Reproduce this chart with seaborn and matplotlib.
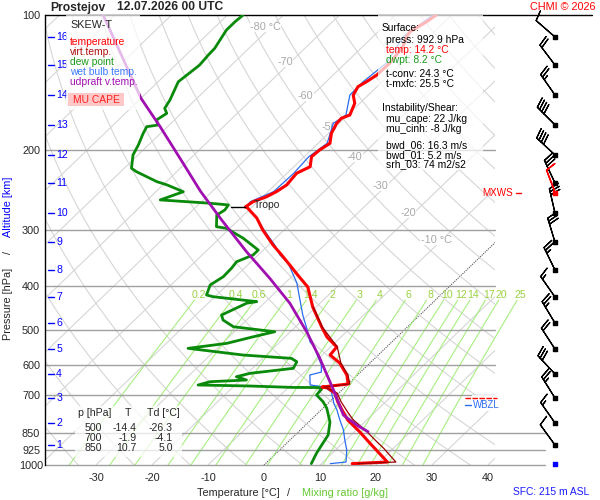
import numpy as np
import matplotlib
matplotlib.use("Agg")
import matplotlib.pyplot as plt
import matplotlib.transforms as mtransforms
from matplotlib.patches import Rectangle
import seaborn as sns

# sounding, p in hPa, temperatures in deg C
p_temp = [993, 985, 893.5, 844.6, 794.3, 762.4, 724.4, 691.8, 674.4, 671, 660.7, 631,
          593.4, 569.6, 546.7, 519.5, 493.5, 445.6, 402.2, 378.4, 359.4, 341.5, 324.4,
          300.5, 282.6, 268.5, 267.1, 260, 253.4, 247, 238.7, 224.8, 217.3, 206.5, 199.5,
          192.8, 183.2, 174.1, 169.7, 166.8, 157.1, 150.6, 144.3, 140.7, 135.9, 127.8,
          117.6, 111.7, 108.9, 103.5, 100]
temp = [15.5, 21.5, 14.8, 11.0, 6.6, 4.3, 1.5, -0.7, -2.9, -4.1, 0.0, -1.9,
        -5.4, -8.6, -8.9, -12.5, -15.3, -20.6, -25.2, -29.2, -32.5, -35.8, -39.2,
        -43.8, -47.1, -50.6, -51.2, -50.8, -49.3, -48.5, -47.9, -48.3, -47.1, -48.7, -48.5,
        -47.9, -49.5, -50.4, -50.5, -49.6, -50.9, -52.7, -53.4, -52.8, -52.2, -52.1,
        -52.8, -54.0, -54.3, -53.2, -52.7]

p_virt = [993, 985, 917, 893.5, 844.6, 794.3, 762.4, 724.4, 691.8, 671, 660.7, 631,
          593.4, 546.7, 493.5, 445.6]
virt = [16.5, 23.0, 18.2, 16.3, 12.3, 7.6, 5.1, 2.1, -0.3, -3.7, 0.3, -1.7,
        -5.2, -8.8, -15.2, -20.5]

p_dewp = [993, 941.9, 902.7, 857.7, 802.5, 748.2, 723.3, 699, 677.9, 672.7, 672.4, 667.5,
          664.1, 653, 647.4, 636.6, 625.6, 609.8, 589.5, 579.4, 569.7, 550.5, 536.6, 518.8,
          505.7, 492.9, 476.3, 464.2, 437, 433.5, 422.7, 419, 398.1, 381.5, 365.5, 353.4,
          341.5, 332.9, 313.3, 297.9, 295.4, 278.3, 271.2, 264.3, 262, 257.6, 247, 238.5,
          234.6, 222.9, 219.1, 204.7, 194.5, 183.2, 177.1, 175.6, 171.1, 165.4, 161.2,
          154.5, 140.7, 132.5, 129.2, 122.7, 118.6, 113.6, 108, 103.5, 100]
dewp = [8.2, 7.2, 6.6, 5.9, 3.8, 0.7, -1.2, -3.6, -3.8, -4.7, -9.2, -17.2,
        -26.6, -25.1, -18.9, -21.3, -19.5, -12.7, -13.3, -14.9, -24.1, -35.2, -29.2, -25.7,
        -22.8, -31.1, -34.2, -35.4, -33.1, -31.6, -40.3, -41.8, -43.0, -42.2, -42.3, -42.6,
        -40.9, -40.9, -45.8, -50.6, -52.7, -54.8, -54.3, -54.6, -58.2, -67.7, -65.1, -69.3,
        -71.7, -77.2, -78.7, -80.9, -81.8, -83.1, -83.7, -82.0, -83.2, -82.6, -83.9,
        -84.5, -86.4, -85.9, -85.7, -86.0, -86.1, -86.7, -87.4, -87.4, -87.2]

p_wetb = [993, 985, 926.1, 880.1, 836, 794.3, 754.3, 732, 688.3, 670.9, 664.1, 631, 621.5,
          599.5, 563.9, 546.8, 532.9, 509, 464.2, 429.7, 394, 356.2, 341.5, 324.4, 302.9,
          283, 267, 260, 247, 224.8, 206.5, 192.8, 174.1, 166.8, 150.6, 140.7, 127.8,
          111.7, 100]
wetb = [11.6, 14.1, 12.0, 9.8, 7.7, 5.2, 2.8, 1.2, -1.5, -3.6, -6.6, -8.5, -7.0,
        -8.3, -11.4, -12.8, -14.6, -16.6, -20.9, -24.2, -27.9, -33.1, -36.1, -38.9, -43.1,
        -47.1, -51.0, -51.3, -49.0, -48.8, -49.2, -48.4, -51.0, -50.3, -53.3, -53.4, -52.7,
        -54.6, -53.3]

p_updr = [843.4, 814.9, 774.3, 681.3, 578.5, 505.7, 437, 384.7, 335.7, 285.5, 246.1,
          213.6, 177.1, 153.1, 100]
updr = [12.4, 9.1, 4.9, -1.5, -9.9, -17.1, -25.4, -33.6, -42.7, -53.0, -62.2,
        -70.4, -81.3, -90.0, -112.2]

# altitude axis and winds (direction deg, speed kt) at each km
alt_km = [1, 2, 3, 4, 5, 6, 7, 8, 9, 10, 11, 12, 13, 14, 15, 16]
p_alt = [902.7, 806.5, 709.9, 627.8, 552.5, 483.7, 423.3, 368.8, 319.6, 275.4, 236.3,
         204.7, 175.5, 150.6, 129.2, 111.9]
wind_dir = [324, 325, 328, 317, 327, 329, 325, 334, 343, 347, 335, 313, 315, 325, 323, 311]
wind_spd = [10, 15, 25, 30, 20, 25, 15, 25, 30, 30, 30, 40, 40, 25, 20, 10]
p_mxws, dir_mxws, spd_mxws = 248.7, 339, 10
p_sfc = 993
p_tropo = 267

p_levels = [100, 200, 300, 400, 500, 600, 700, 850, 925, 1000]
t_ticks = [-30, -20, -10, 0, 10, 20, 30, 40]
mix_ratios = [0.2, 0.4, 0.6, 1, 1.4, 2, 3, 4, 6, 8, 10, 12, 14, 17, 20, 25]
iso_labels = [(-80, 106.3, "-80 °C"), (-70, 127.2, "-70"), (-60, 151.4, "-60"),
              (-50, 177.4, "-50"), (-40, 206.8, "-40"), (-30, 239.9, "-30"),
              (-20, 275.4, "-20"), (-10, 316.2, "-10 °C")]
table_rows = [("500", "-14.4", "-26.3"), ("700", "-1.9", "-4.1"), ("850", "10.7", "5.0")]

sns.set_style("white")
plt.rcParams['font.family'] = ['Liberation Sans', 'DejaVu Sans']
plt.rcParams['axes.unicode_minus'] = False

W, H = 600, 500
fig = plt.figure(figsize=(6, 5), dpi=100)
ax = fig.add_axes([45 / W, 35 / H, 450 / W, 450 / H])
ax.set_yscale('log')
ax.set_xlim(-39.1, 41.25)
ax.set_ylim(1000, 100)
ax.set_autoscale_on(False)

# skew-T: shift right by ~1.04 px per px of height, measured from the 1000 hPa line
skew = ax.transData + mtransforms.Affine2D().translate(0, -35).skew(np.arctan(1.039), 0).translate(0, 35)

# background: isotherms, dry adiabats, mixing ratio lines
pg = np.logspace(3, 2, 80)
for t in range(-140, 50, 10):
    if t == 0:
        ax.plot([t, t], [1000, 100], color='#555555', lw=0.8, ls=(0, (1, 1)), transform=skew, zorder=1)
    else:
        ax.plot([t, t], [1000, 100], color='#d6d6d6', lw=0.8, transform=skew, zorder=1)
for th in range(230, 470, 10):
    ax.plot(th * (pg / 1000) ** 0.2857 - 273.15, pg, color='#d6d6d6', lw=0.8, transform=skew, zorder=1)

pm = np.linspace(1000, 430, 30)
for w in mix_ratios:
    lne = np.log(w * pm / (622 + w) / 6.112)
    ax.plot(243.5 * lne / (17.67 - lne), pm, color='#a8ee80', lw=0.8, transform=skew,
            clip_on=False, zorder=1)
    lt = np.log(w * 419 / (622 + w) / 6.112)
    ax.text(243.5 * lt / (17.67 - lt), 419, f"{w:g}", transform=skew, color='#9ad142',
            fontsize=7.6, ha='center', va='center', clip_on=False)

for t, p, s in iso_labels:
    ax.text(t - 1, p, s, transform=skew, color='#a8a8a8', fontsize=7.8, ha='center', va='center',
            bbox=dict(fc='white', ec='none', pad=0.3), zorder=2)

for p in p_levels[1:]:
    ext = 500 / 450 if p >= 850 else 1.0
    ax.axhline(p, xmax=ext, color='#a0a0a0', lw=1, clip_on=False, zorder=2)
ax.axhline(100, xmax=547 / 450, color='black', lw=1, clip_on=False, zorder=3)

# MU CAPE shading between parcel and environment
pp = np.linspace(664, 692, 30)
up_i = np.interp(pp, p_updr[::-1], updr[::-1])
tv_i = np.interp(pp, p_virt[::-1], virt[::-1])
ax.fill_betweenx(pp, tv_i, up_i, where=up_i > tv_i, color='#ffc0c0', lw=0, transform=skew, zorder=3)

# profiles
sns.lineplot(x=wetb, y=p_wetb, sort=False, estimator=None, color='#2a6cf0', lw=0.9,
             transform=skew, ax=ax, zorder=4)
sns.lineplot(x=dewp, y=p_dewp, sort=False, estimator=None, color='#0a8a0a', lw=2,
             transform=skew, ax=ax, zorder=5)
sns.lineplot(x=temp, y=p_temp, sort=False, estimator=None, color='#ff0000', lw=2.2,
             transform=skew, ax=ax, zorder=5)
sns.lineplot(x=virt, y=p_virt, sort=False, estimator=None, color='#9a0000', lw=0.9,
             transform=skew, ax=ax, zorder=6)
sns.lineplot(x=updr, y=p_updr, sort=False, estimator=None, color='#a010b0', lw=2,
             transform=skew, ax=ax, zorder=6)

ax.plot([-53.8, -51.2], [p_tropo, p_tropo], color='black', lw=1, transform=skew, zorder=6)
ax.text(-50.0, p_tropo - 2, "Tropo", transform=skew, fontsize=7.4, va='center', zorder=6)

# axes cosmetics
ax.set_yticks(p_levels)
ax.set_yticklabels([str(p) for p in p_levels])
ax.yaxis.set_minor_locator(matplotlib.ticker.NullLocator())
ax.set_xticks(t_ticks)
ax.set_xticklabels([str(t) for t in t_ticks])
ax.tick_params(axis='y', length=0, pad=10, labelsize=7.8)
ax.tick_params(axis='x', length=0, pad=6, labelsize=7.8)
for lab in ax.get_yticklabels():
    lab.set_horizontalalignment('center')
ax.set_xlabel('')
ax.set_ylabel('')
for side in ['top', 'right', 'bottom']:
    ax.spines[side].set_visible(False)
ax.spines['left'].set_color('black')
ax.spines['left'].set_linewidth(1)
ax.grid(False)

# altitude ticks on the left
blend = mtransforms.blended_transform_factory(ax.transAxes, ax.transData)
for km, p in zip(alt_km, p_alt):
    ax.plot([0.007, 0.019], [p, p], color='#0000ff', lw=1, transform=blend, clip_on=False, zorder=6)
    ax.text(0.025, p, str(km), transform=blend, color='#0000ff', fontsize=7.6, va='center')

# wind barbs in the right column
bl = mtransforms.blended_transform_factory(fig.transFigure, ax.transData)
wd = np.deg2rad(wind_dir)
u = -np.array(wind_spd) * np.sin(wd)
v = -np.array(wind_spd) * np.cos(wd)
xb = np.full(len(p_alt), 555 / W)
ax.barbs(xb, p_alt, u, v, transform=bl, length=6, lw=0.9, color='black', clip_on=False, zorder=6)
ax.scatter(xb, p_alt, marker='s', s=8, color='black', transform=bl, clip_on=False, zorder=7)
wm = np.deg2rad(dir_mxws)
ax.barbs([555 / W], [p_mxws], [-spd_mxws * np.sin(wm)], [-spd_mxws * np.cos(wm)], transform=bl,
         length=6, lw=1, color='red', clip_on=False, zorder=7)
ax.scatter([555 / W], [p_mxws], marker='s', s=8, color='red', transform=bl, clip_on=False, zorder=7)
ax.scatter([555 / W], [p_sfc], marker='s', s=8, color='#0000ff', transform=bl, clip_on=False, zorder=7)
ax.text(482 / W, p_mxws, "MXWS", transform=bl, color='red', fontsize=7.1, va='center', clip_on=False)
ax.plot([516 / W, 521 / W], [p_mxws, p_mxws], color='red', lw=1, transform=bl, clip_on=False)


def fx(x):
    return x / W


def fy(y):
    return 1 - y / H


# semi transparent boxes
for (x0, y0, x1, y1, fc, a) in [(66, 15, 140, 110, 'white', 0.72), (378, 15, 483, 170, 'white', 0.72),
                                 (75, 406, 182, 457, 'white', 0.75), (472, 395, 508, 411, 'white', 0.9),
                                 (68, 93, 124, 106, '#ffc8c8', 1.0)]:
    fig.add_artist(Rectangle((fx(x0), fy(y1)), fx(x1 - x0), (y1 - y0) / H, transform=fig.transFigure,
                             fc=fc, ec='none', alpha=a, zorder=2))

# MXWS / WBZL markers
fig.add_artist(matplotlib.lines.Line2D([fx(465), fx(497)], [fy(398), fy(398)], color='red', lw=1,
                                       ls=(0, (4, 1)), zorder=3))
fig.add_artist(matplotlib.lines.Line2D([fx(465), fx(471)], [fy(404.5), fy(404.5)], color='#2a6cf0',
                                       lw=1, zorder=3))
fig.text(fx(473), fy(405), "WBZL", color='#2a6cf0', fontsize=6.9, va='center')

# title and credits
fig.text(fx(50), fy(7.5), "Prostejov", fontsize=8.7, fontweight='bold', va='center')
fig.text(fx(117), fy(7.5), "12.07.2026 00 UTC", fontsize=8.7, fontweight='bold', va='center')
fig.text(fx(530), fy(7), "CHMI © 2026", fontsize=7.8, color='red', va='center')
fig.text(fx(513), fy(492), "SFC: 215 m ASL", fontsize=7.4, color='#1a1aff', va='center')

# axis titles
fig.text(fx(8), fy(304), "Pressure [hPa]", rotation=90, fontsize=7.8, ha='center', va='center')
fig.text(fx(8), fy(252), "/", rotation=90, fontsize=7.8, ha='center', va='center')
fig.text(fx(8), fy(207), "Altitude [km]", rotation=90, fontsize=7.8, color='#0000ff',
         ha='center', va='center')
fig.text(fx(197), fy(493), "Temperature [°C]", fontsize=7.8, va='center')
fig.text(fx(287), fy(493), "/", fontsize=7.8, va='center')
fig.text(fx(302), fy(493), "Mixing ratio [g/kg]", fontsize=7.8, color='#66c832', va='center')

# legend
fig.text(fx(70), fy(25), "SKEW-T", fontsize=7.8, va='center')
for txt, col, yy in [("temperature", '#ff0000', 42), ("virt.temp.", '#b01010', 52),
                     ("dew point", '#1a9a1a', 62), ("wet bulb temp.", '#3a7aff', 72),
                     ("udpraft v.temp.", '#a010b0', 82)]:
    fig.text(fx(70), fy(yy), txt, fontsize=7.4, color=col, va='center')
fig.text(fx(96), fy(100), "MU CAPE", fontsize=7.4, color='#ff2020', ha='center', va='center')

# surface / instability info
info = [("Surface:", 'black', 382, 27.7), ("press: 992.9 hPa", 'black', 386, 40),
        ("temp: 14.2 °C", '#ff0000', 386, 50), ("dwpt: 8.2 °C", '#1a9a1a', 386, 60),
        ("t-conv: 24.3 °C", 'black', 386, 74.3), ("t-mxfc: 25.5 °C", 'black', 386, 84.3),
        ("Instability/Shear:", 'black', 382, 108.3), ("mu_cape: 22 J/kg", 'black', 386, 119.3),
        ("mu_cinh: -8 J/kg", 'black', 386, 129.3), ("bwd_06: 16.3 m/s", 'black', 386, 145),
        ("bwd_01: 5.2 m/s", 'black', 386, 155), ("srh_03: 74 m2/s2", 'black', 386, 164.3)]
for txt, col, xx, yy in info:
    fig.text(fx(xx), fy(yy), txt, fontsize=7.4, color=col, va='center')

# level table
fig.text(fx(78), fy(413), "p [hPa]", fontsize=7.6, va='center')
fig.text(fx(127.5), fy(413), "T", fontsize=7.6, ha='center', va='center')
fig.text(fx(147), fy(413), "Td [°C]", fontsize=7.6, va='center')
for i, (pl, tt, dd) in enumerate(table_rows):
    yy = 428 + 10 * i
    fig.text(fx(102), fy(yy), pl, fontsize=7.6, ha='right', va='center')
    fig.text(fx(137), fy(yy), tt, fontsize=7.6, ha='right', va='center')
    fig.text(fx(173), fy(yy), dd, fontsize=7.6, ha='right', va='center')

fig.savefig("out.png", dpi=100)
